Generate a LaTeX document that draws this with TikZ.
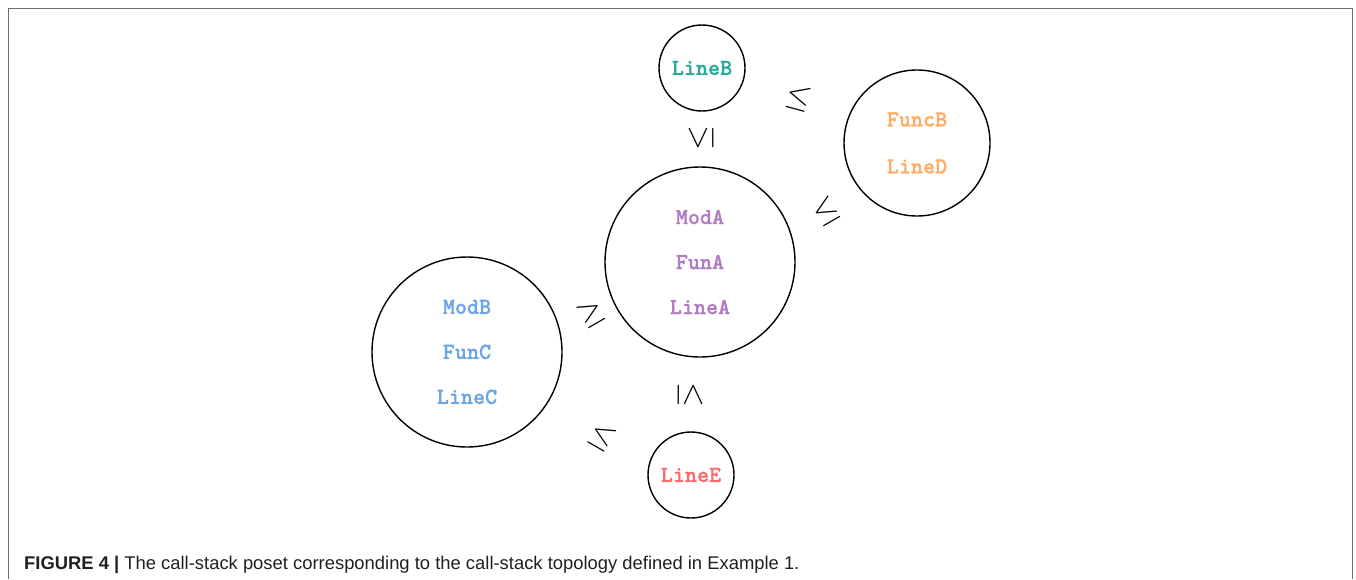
\documentclass[tikz,border=0pt]{standalone}
\usepackage{fontspec}
\usepackage{graphicx}
\newfontfamily\capfont{Liberation Sans}
\newfontfamily\monob{lmmonolt10-bold}[Extension=.otf, FakeBold=1.2]
\definecolor{framegray}{HTML}{6E6E6E}
\definecolor{cteal}{HTML}{2AAA98}
\definecolor{corange}{HTML}{FFAD66}
\definecolor{cpurple}{HTML}{B27CC4}
\definecolor{cblue}{HTML}{6CA6E4}
\definecolor{cred}{HTML}{FF6B6B}
\definecolor{captext}{HTML}{231F20}
\begin{document}
\begin{tikzpicture}[x=1pt,y=-1pt,
  st/.style={circle,draw=black,line width=1.4pt,inner sep=0pt,align=center,
    font=\monob\fontsize{23}{24}\selectfont},
  rel/.style={inner sep=0pt}]
\useasboundingbox (0,0) rectangle (1356,579);
\draw[framegray, line width=1.5pt] (8.5,579) -- (8.5,8.5) -- (1352.5,8.5) -- (1352.5,579);
% states
\node[st, minimum size=86, text=cteal] (lb) at (702,68) {LineB};
\node[st, minimum size=146, text=corange] (fb) at (917,143) {FuncB\\[23pt]LineD};
\node[st, minimum size=190, text=cpurple] (ma) at (700,262) {ModA\\[21pt]FunA\\[21pt]LineA};
\node[st, minimum size=190, text=cblue] (mb) at (467,352) {ModB\\[21pt]FunC\\[21pt]LineC};
\node[st, minimum size=86, text=cred] (le) at (691,475) {LineE};
% relations
\node[rel, rotate=90]  (r1) at (701,138) {\scalebox{3.2}{$\leq$}};
\node[rel, rotate=-90] (r2) at (690,395) {\scalebox{3.2}{$\leq$}};
\node[rel, rotate=-15] (r3) at (799,98)  {\scalebox{3.2}{$\leq$}};
\node[rel, rotate=30]  (r4) at (826,211) {\scalebox{3.2}{$\leq$}};
\node[rel, rotate=30]  (r5) at (591,313) {\scalebox{3.2}{$\geq$}};
\node[rel, rotate=-30] (r6) at (602,437) {\scalebox{3.2}{$\leq$}};
% caption
\node[anchor=base west, inner sep=0pt, text=captext,
  font=\capfont\fontsize{18.4}{20}\selectfont] (cap) at (24,569)
  {\textbf{FIGURE 4 |} The call-stack poset corresponding to the call-stack topology defined in Example 1.};
\end{tikzpicture}
\end{document}
